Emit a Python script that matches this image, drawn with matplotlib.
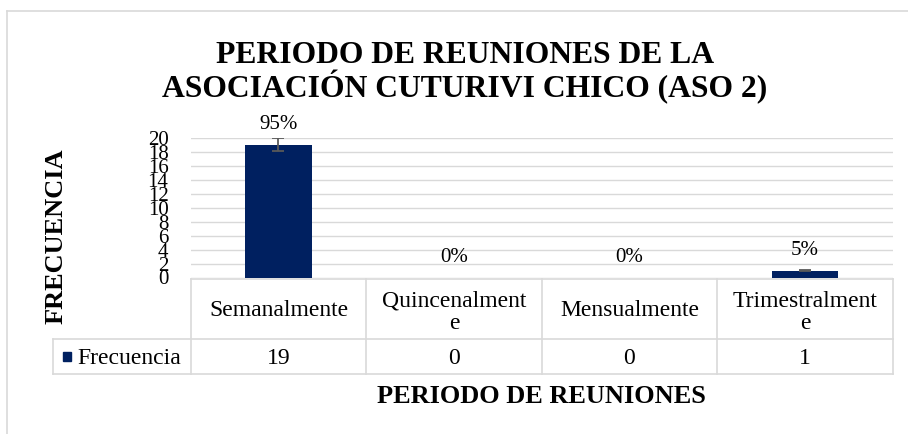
import matplotlib
matplotlib.use("Agg")
import matplotlib.pyplot as plt
import matplotlib.transforms as mtransforms
from matplotlib.patches import Rectangle
import numpy as np

# data
categories = ["Semanalmente", "Quincenalmente", "Mensualmente", "Trimestralmente"]
header_labels = ["Semanalmente", "Quincenalment\ne", "Mensualmente", "Trimestralment\ne"]
frecuencia = [19, 0, 0, 1]
series_name = "Frecuencia"
err_pct = 0.05  # Excel percentage error bars
yticks = list(range(0, 21, 2))

NAVY = "#002060"
GRID = "#d9d9d9"
FONT = "Liberation Serif"
plt.rcParams["font.family"] = FONT

W, H = 908, 434


def fx(px):
    return px / W


def fy(py):
    return 1 - py / H


fig = plt.figure(figsize=(W / 100, H / 100), dpi=100)

# outer chart border (only top/left visible in the crop)
fig.add_artist(plt.Line2D([fx(7.3), fx(7.3)], [0, fy(11)], color=GRID, lw=1.2))
fig.add_artist(plt.Line2D([fx(7.3), 1], [fy(11), fy(11)], color=GRID, lw=1.2))

ax = fig.add_axes([fx(190.7), fy(277.5), fx(892.7) - fx(190.7), fy(137.7) - fy(277.5)])
x = np.arange(len(categories))
vals = np.array(frecuencia, dtype=float)

ax.bar(x, vals, width=0.378, color=NAVY, zorder=2)
nz = vals > 0
ax.errorbar(x[nz], vals[nz], yerr=vals[nz] * err_pct, fmt="none", ecolor="#595959",
            elinewidth=1.3, capsize=4.5, capthick=1.3, zorder=3)

total = vals.sum()
for xi, v in zip(x, vals):
    ax.annotate(f"{v / total * 100:.0f}%", xy=(xi, v), xytext=(0, 11),
                textcoords="offset points", ha="center", va="baseline", fontsize=15)

ax.set_xlim(-0.5, len(categories) - 0.5)
ax.set_ylim(0, 20)
ax.set_yticks(yticks)
ax.set_yticklabels([str(t) for t in yticks], fontsize=15)
ax.tick_params(axis="y", length=0, pad=16)
ax.set_xticks([])
ax.grid(axis="y", color=GRID, lw=1.0, zorder=0)
ax.set_axisbelow(True)
for s in ax.spines.values():
    s.set_visible(False)

# data table under the plot
tr = mtransforms.blended_transform_factory(ax.transData, fig.transFigure)
y_top, y_mid, y_bot = fy(279.3), fy(339), fy(374)
edges = np.arange(len(categories) + 1) - 0.5
leg_left = -0.5 - (190.7 - 53) / 175.5
line_kw = dict(color=GRID, lw=1.2, transform=tr, clip_on=False)
ax.plot([edges[0], edges[-1]], [y_top, y_top], **line_kw)
ax.plot([leg_left, edges[-1]], [y_mid, y_mid], **line_kw)
ax.plot([leg_left, edges[-1]], [y_bot, y_bot], **line_kw)
for e in edges:
    ax.plot([e, e], [y_top, y_bot], **line_kw)
ax.plot([leg_left, leg_left], [y_mid, y_bot], **line_kw)

for xi, lab, v in zip(x, header_labels, frecuencia):
    yc = fy(312.5) if "\n" in lab else fy(310.5)
    ax.text(xi, yc, lab, transform=tr, ha="center", va="center",
            fontsize=17, linespacing=1.1)
    ax.text(xi, fy(358), str(v), transform=tr, ha="center", va="center",
            fontsize=17)

fig.add_artist(Rectangle((fx(62.7), fy(360.7)), fx(71) - fx(62.7), fy(352) - fy(360.7),
                         transform=fig.transFigure, color=NAVY))
fig.text(fx(77.7), fy(358), series_name, ha="left", va="center", fontsize=17)

# titles
fig.text(fx(465), fy(73), "PERIODO DE REUNIONES DE LA\nASOCIACIÓN CUTURIVI CHICO (ASO 2)",
         ha="center", va="center", fontsize=22.8, fontweight="bold", linespacing=1.0)
fig.text(fx(541.7), fy(396.5), "PERIODO DE REUNIONES", ha="center", va="center",
         fontsize=19, fontweight="bold")
fig.text(fx(56), fy(236), "FRECUENCIA", ha="center", va="center", rotation=90,
         fontsize=19, fontweight="bold")

fig.savefig("out.png", dpi=100)
